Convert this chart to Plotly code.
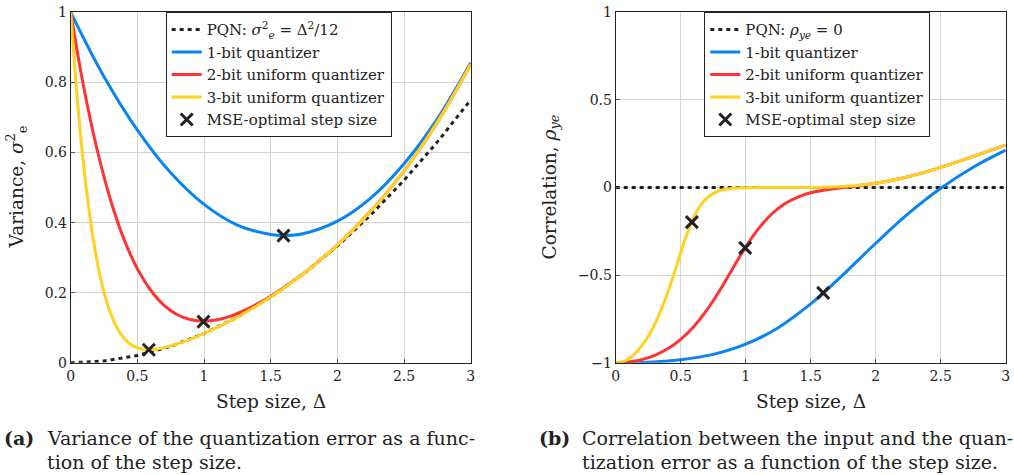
import plotly.graph_objects as go

# ---- data -------------------------------------------------------------
# step size grids and curves for the 1-, 2- and 3-bit quantizers
delta_1bit = [0, 0.25, 0.5, 0.75, 1.0, 1.25, 1.5, 1.6, 1.75, 2.0, 2.25, 2.5, 2.75, 3.0]
var_1bit = [1, 0.816, 0.664, 0.542, 0.452, 0.393, 0.366, 0.363, 0.369, 0.404,
            0.470, 0.568, 0.696, 0.856]
rho_1bit = [-1, -0.997, -0.982, -0.952, -0.894, -0.800, -0.664, -0.600, -0.497,
            -0.318, -0.149, -0.004, 0.116, 0.213]

delta_2bit = [0, 0.05, 0.1, 0.15, 0.2, 0.3, 0.4, 0.5, 0.6, 0.7, 0.8, 0.9, 1.0,
              1.1, 1.2, 1.3, 1.4, 1.5, 1.6, 1.8, 2.0, 2.2, 2.4, 2.6, 2.8, 3.0]
var_2bit = [1, 0.886, 0.782, 0.689, 0.605, 0.463, 0.352, 0.268, 0.207, 0.164,
            0.137, 0.123, 0.119, 0.123, 0.133, 0.149, 0.168, 0.190, 0.215, 0.271,
            0.336, 0.412, 0.499, 0.600, 0.718, 0.852]
rho_2bit = [-1, -0.999, -0.996, -0.990, -0.982, -0.957, -0.920, -0.866, -0.794,
            -0.700, -0.587, -0.462, -0.339, -0.233, -0.151, -0.093, -0.054, -0.030,
            -0.015, 0.004, 0.024, 0.053, 0.092, 0.139, 0.191, 0.242]

delta_3bit = [0, 0.05, 0.1, 0.15, 0.2, 0.25, 0.3, 0.35, 0.4, 0.45, 0.5, 0.55, 0.6,
              0.65, 0.7, 0.8, 0.9, 1.0, 1.2, 1.4, 1.6, 1.8, 2.0, 2.2, 2.4, 2.6, 2.8, 3.0]
var_3bit = [1, 0.750, 0.553, 0.401, 0.286, 0.201, 0.140, 0.098, 0.070, 0.053,
            0.043, 0.0385, 0.0376, 0.0394, 0.0434, 0.0541, 0.0676, 0.0836, 0.1202,
            0.1637, 0.2135, 0.2704, 0.3363, 0.4116, 0.499, 0.600, 0.718, 0.852]
rho_3bit = [-1, -0.994, -0.977, -0.947, -0.904, -0.849, -0.780, -0.697, -0.599,
            -0.489, -0.372, -0.261, -0.170, -0.104, -0.060, -0.017, -0.004, -0.001,
            0.000, 0.000, 0.002, 0.009, 0.025, 0.053, 0.092, 0.139, 0.191, 0.242]

# pseudo-quantization-noise model
delta_pqn = [0, 0.25, 0.5, 0.75, 1.0, 1.25, 1.5, 1.75, 2.0, 2.25, 2.5, 2.75, 3.0]
var_pqn = [0, 0.0052, 0.0208, 0.0469, 0.0833, 0.1302, 0.1875, 0.2552, 0.3333,
           0.4219, 0.5208, 0.6302, 0.75]
rho_pqn_delta = [0, 3]
rho_pqn = [0, 0]

# MSE-optimal step sizes (1-, 2-, 3-bit)
opt_delta = [1.596, 0.996, 0.586]
opt_var = [0.363, 0.1175, 0.0374]
opt_rho = [-0.601, -0.344, -0.197]

x_ticks = [0, 0.5, 1, 1.5, 2, 2.5, 3]
x_tick_text = ["0", "0.5", "1", "1.5", "2", "2.5", "3"]
var_ticks = [0, 0.2, 0.4, 0.6, 0.8, 1]
var_tick_text = ["0", "0.2", "0.4", "0.6", "0.8", "1"]
rho_ticks = [-1, -0.5, 0, 0.5, 1]
rho_tick_text = ["\u22121", "\u22120.5", "0", "0.5", "1"]

# ---- styling ----------------------------------------------------------
FONT = "DejaVu Serif"
BLUE = "#0A84F0"
RED = "#FF3333"
YELLOW = "#FFD21F"
BLACK = "#222222"
LW = 3

fig = go.Figure()


def add_panel(xa, ya, legend, pqn_x, pqn_y, pqn_name, ys, opt_y):
    fig.add_trace(go.Scatter(
        x=pqn_x, y=pqn_y, mode="lines", name=pqn_name,
        line=dict(color=BLACK, width=LW, dash="4px,4px"),
        xaxis=xa, yaxis=ya, legend=legend))
    for dx, dy, col, name in [
        (delta_1bit, ys[0], BLUE, "1-bit quantizer"),
        (delta_2bit, ys[1], RED, "2-bit uniform quantizer"),
        (delta_3bit, ys[2], YELLOW, "3-bit uniform quantizer"),
    ]:
        fig.add_trace(go.Scatter(
            x=dx, y=dy, mode="lines", name=name,
            line=dict(color=col, width=LW, shape="spline", smoothing=1.0),
            xaxis=xa, yaxis=ya, legend=legend))
    fig.add_trace(go.Scatter(
        x=opt_delta, y=opt_y, mode="markers", name="MSE-optimal step size",
        marker=dict(symbol="x-thin", size=12, color=BLACK,
                    line=dict(width=3, color=BLACK)),
        xaxis=xa, yaxis=ya, legend=legend, cliponaxis=False))


add_panel("x", "y", "legend", delta_pqn, var_pqn,
          "PQN: <i>σ</i><sup>2</sup><sub><i>e</i></sub> = Δ<sup>2</sup>/12",
          [var_1bit, var_2bit, var_3bit], opt_var)
add_panel("x2", "y2", "legend2", rho_pqn_delta, rho_pqn,
          "PQN: <i>ρ</i><sub><i>ye</i></sub> = 0",
          [rho_1bit, rho_2bit, rho_3bit], opt_rho)

W, H = 1014, 475
y_dom = [(H - 362.8) / H, (H - 12.3) / H]
left_dom = [70.7 / W, 470.7 / W]
right_dom = [615.7 / W, 1005.7 / W]

axis_common = dict(
    showgrid=True, gridcolor="#d4d4d4", gridwidth=1,
    showline=True, mirror=True, linecolor=BLACK, linewidth=1,
    ticks="inside", ticklen=4, tickcolor="#555555", tickwidth=1,
    zeroline=False, tickfont=dict(family=FONT, size=14, color=BLACK),
    fixedrange=True, automargin=False,
)

legend_common = dict(
    bgcolor="white", bordercolor=BLACK, borderwidth=1,
    font=dict(family=FONT, size=15, color=BLACK),
    xanchor="left", yanchor="top", itemwidth=30,
    tracegroupgap=0,
)

fig.update_layout(
    width=W, height=H,
    margin=dict(l=0, r=0, t=0, b=0, autoexpand=False),
    paper_bgcolor="white", plot_bgcolor="white",
    font=dict(family=FONT, size=15, color=BLACK),
    xaxis=dict(domain=left_dom, range=[0, 3], tickvals=x_ticks,
               ticktext=x_tick_text, anchor="y", **axis_common),
    yaxis=dict(domain=y_dom, range=[0, 1], tickvals=var_ticks,
               ticktext=var_tick_text, anchor="x", **axis_common),
    xaxis2=dict(domain=right_dom, range=[0, 3], tickvals=x_ticks,
                ticktext=x_tick_text, anchor="y2", **axis_common),
    yaxis2=dict(domain=y_dom, range=[-1, 1], tickvals=rho_ticks,
                ticktext=rho_tick_text, anchor="x2", **axis_common),
    legend=dict(x=165.7 / W, y=y_dom[1], **legend_common),
    legend2=dict(x=704.3 / W, y=y_dom[1], **legend_common),
    showlegend=True,
)


def px_x(v):
    return v / W


def px_y(v):
    return (H - v) / H


annotations = [
    # axis titles
    dict(x=px_x(270.7), y=px_y(401), text="Step size, Δ"),
    dict(x=px_x(810.7), y=px_y(401), text="Step size, Δ"),
    dict(x=px_x(17), y=px_y(187.5), text="Variance, <i>σ</i><sup>2</sup><sub>e</sub>",
         textangle=-90),
    dict(x=px_x(550), y=px_y(187.5), text="Correlation, <i>ρ</i><sub><i>ye</i></sub>",
         textangle=-90),
]
for a in annotations:
    a.update(xref="paper", yref="paper", showarrow=False,
             xanchor="center", yanchor="middle",
             font=dict(family=FONT, size=18.5, color=BLACK))

captions = [
    dict(x=px_x(2), y=px_y(438), text="<b>(a)</b>"),
    dict(x=px_x(45), y=px_y(438), text="Variance of the quantization error as a func-"),
    dict(x=px_x(45), y=px_y(462), text="tion of the step size."),
    dict(x=px_x(537), y=px_y(438), text="<b>(b)</b>"),
    dict(x=px_x(580), y=px_y(438), text="Correlation between the input and the quan-"),
    dict(x=px_x(580), y=px_y(462), text="tization error as a function of the step size."),
]
for c in captions:
    c.update(xref="paper", yref="paper", showarrow=False,
             xanchor="left", yanchor="middle",
             font=dict(family=FONT, size=19, color=BLACK))

fig.update_layout(annotations=annotations + captions)

fig.write_html("out.html")
